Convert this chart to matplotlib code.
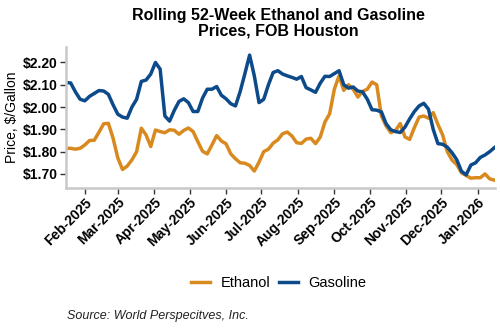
import numpy as np
import pandas as pd
import matplotlib
matplotlib.use("Agg")
import matplotlib.pyplot as plt
import matplotlib.dates as mdates
from matplotlib.ticker import FuncFormatter

plt.rcParams['font.family'] = ['Liberation Sans', 'DejaVu Sans']

# samples every 4 days
dates = pd.date_range('2025-01-16', periods=92, freq='4D')

ethanol = [
    1.815, 1.815, 1.811, 1.815, 1.830, 1.850, 1.851, 1.887, 1.925, 1.927,
    1.860, 1.772, 1.720, 1.735, 1.763, 1.800, 1.905, 1.875, 1.823, 1.897,
    1.890, 1.885, 1.898, 1.896, 1.878, 1.895, 1.906, 1.890, 1.845, 1.802,
    1.790, 1.830, 1.872, 1.848, 1.835, 1.790, 1.768, 1.750, 1.748, 1.738,
    1.713, 1.753, 1.800, 1.811, 1.838, 1.853, 1.880, 1.888, 1.870, 1.840,
    1.837, 1.856, 1.860, 1.836, 1.865, 1.933, 1.970, 2.080, 2.140, 2.075,
    2.100, 2.080, 2.045, 2.070, 2.080, 2.112, 2.100, 1.960, 1.915, 1.885,
    1.895, 1.926, 1.866, 1.855, 1.908, 1.955, 1.960, 1.950, 1.975, 1.922,
    1.875, 1.800, 1.762, 1.742, 1.705, 1.693, 1.681, 1.683, 1.683, 1.700,
    1.678, 1.672,
]

gasoline = [
    2.110, 2.108, 2.068, 2.035, 2.028, 2.048, 2.061, 2.074, 2.072, 2.057,
    2.010, 1.968, 1.955, 1.950, 2.000, 2.035, 2.115, 2.121, 2.148, 2.200,
    2.170, 1.960, 1.937, 1.985, 2.025, 2.037, 2.020, 1.980, 1.980, 2.040,
    2.080, 2.080, 2.092, 2.053, 2.037, 2.015, 2.005, 2.070, 2.150, 2.233,
    2.140, 2.020, 2.035, 2.100, 2.155, 2.163, 2.148, 2.140, 2.133, 2.125,
    2.137, 2.087, 2.077, 2.066, 2.107, 2.138, 2.137, 2.150, 2.163, 2.100,
    2.085, 2.090, 2.072, 2.068, 2.035, 1.988, 1.986, 1.978, 1.925, 1.898,
    1.890, 1.886, 1.910, 1.947, 1.980, 2.005, 2.017, 1.990, 1.900, 1.836,
    1.833, 1.820, 1.795, 1.764, 1.712, 1.696, 1.740, 1.750, 1.774, 1.785,
    1.800, 1.818,
]

y_ticks = [1.70, 1.80, 1.90, 2.00, 2.10, 2.20]

fig = plt.figure(figsize=(5, 3.3), dpi=100)
ax = fig.add_axes([0.132, 0.429, 0.858, 0.429])

ax.plot(dates, ethanol, color='#D98A1F', lw=2.5, label='Ethanol')
ax.plot(dates, gasoline, color='#0D4A8A', lw=2.5, label='Gasoline')

ax.set_xlim(pd.Timestamp('2025-01-16'), pd.Timestamp('2026-01-15 12:00'))
ax.set_ylim(1.635, 2.27)
ax.set_yticks(y_ticks)
ax.yaxis.set_major_formatter(FuncFormatter(lambda v, p: f'${v:.2f}'))
ax.xaxis.set_major_locator(mdates.MonthLocator(bymonthday=1))
ax.xaxis.set_major_formatter(mdates.DateFormatter('%b-%Y'))

for s in ['top', 'right']:
    ax.spines[s].set_visible(False)
for s in ['left', 'bottom']:
    ax.spines[s].set_color('#c8c8c8')
    ax.spines[s].set_linewidth(1.8)

ax.tick_params(axis='both', length=4, width=1, color='#333333')
ax.tick_params(axis='y', labelsize=10, pad=2)
ax.tick_params(axis='x', labelsize=10, pad=1)
for lab in ax.get_yticklabels():
    lab.set_fontweight('bold')
for lab in ax.get_xticklabels():
    lab.set_fontweight('bold')
    lab.set_rotation(45)
    lab.set_ha('right')
    lab.set_rotation_mode('anchor')

ax.set_ylabel('Price, $/Gallon', fontsize=10, labelpad=3)

fig.text(0.557, 0.975, 'Rolling 52-Week Ethanol and Gasoline\nPrices, FOB Houston',
         ha='center', va='top', fontsize=11.5, fontweight='bold', linespacing=1.0)

fig.legend(loc='center', bbox_to_anchor=(0.557, 0.142), ncol=2, frameon=False,
           fontsize=10.5, handlelength=1.3, columnspacing=0.6, handletextpad=0.7)

fig.text(0.134, 0.042, 'Source: World Perspecitves, Inc.', fontsize=9,
         style='italic', color='#222222', va='center')

fig.savefig('out.png', dpi=100)
